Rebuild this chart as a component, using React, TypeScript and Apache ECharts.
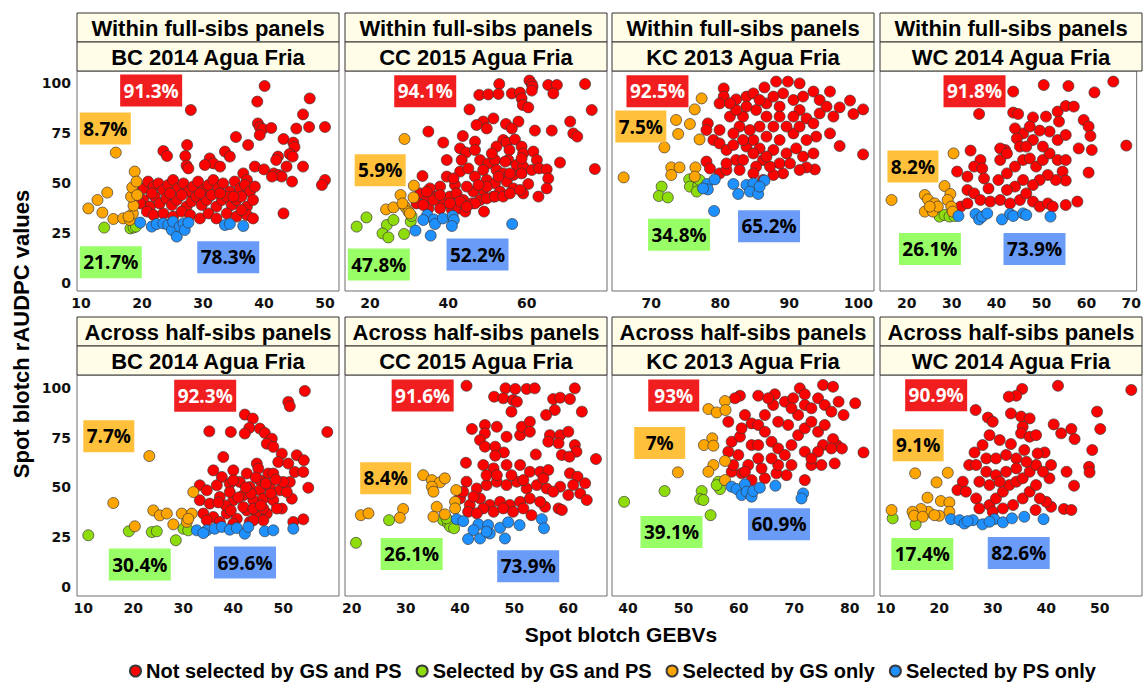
import React, { useEffect, useRef } from "react";
import * as echarts from "echarts";

const GROUPS = ["Not selected by GS and PS", "Selected by GS and PS", "Selected by GS only", "Selected by PS only"];
const GROUP_COLORS = ["#FF0000", "#8EDC0C", "#FFA500", "#1E90FF"];
const BOX_COLORS = ["#F01E1E", "#99FF66", "#FFC03C", "#6A9BF7"];
const BOX_TEXT = ["#FFFFFF", "#000000", "#000000", "#000000"];

const STRIP_TOP = ["Within full-sibs panels", "Across half-sibs panels"];
const STRIP_ENV = ["BC 2014 Agua Fria", "CC 2015 Agua Fria", "KC 2013 Agua Fria", "WC 2014 Agua Fria"];

const Y_TICKS = [0, 25, 50, 75, 100];
const X_TICKS = [
  [10, 20, 30, 40, 50], [20, 40, 60], [70, 80, 90, 100], [20, 30, 40, 50, 60, 70],
  [10, 20, 30, 40, 50], [20, 30, 40, 50, 60], [40, 50, 60, 70, 80], [10, 20, 30, 40, 50],
];
const X_RANGES = [
  [9.34, 52.3], [13.62, 80.5], [64.31, 102.28], [14.02, 71.2],
  [8.74, 61.14], [18.77, 67.14], [37.11, 84.39], [8.93, 57.9],
];
const Y_RANGES = [[-4, 106], [-4.5, 106.5]];

// ---------- Within full-sibs: BC 2014 ----------
const T1_NOT = [[40.1,98.5],[47.5,92.3],[38.9,90.7],[28.0,86.5],[46.4,84.3],[39.0,79.8],[39.3,78],[39.8,77],[41.2,77.5],[45.3,77.2],[47.4,78],[50,78],[39.3,74],[35.4,73],[43.2,72],[37.4,69],[44.8,70.2],[45.0,68],[27.4,69],[23.5,66],[24.1,63.5],[27.1,63.5],[31.1,62.3],[31.7,59.8],[33.6,65.7],[34.4,63.2],[42.3,63.2],[42.0,61.5],[44.2,64.5],[44.7,63.2],[27.3,58.7],[27.6,57.3],[30.3,59],[32.8,58.2],[38.5,58.2],[40.0,56.8],[43.7,58.2],[46.4,58.2],[41.6,54.8],[42.4,54],[42.9,53.2],[41.3,53.2],[36.6,54.8],[37.2,51.5],[50.0,51.5],[49.5,49],[44.6,50.7],[43.2,34.8],
[20.2,47.3],[21.0,50.7],[21.9,48.2],[22.7,49.8],[23.5,46.5],[24.3,49],[25.1,51.5],[25.9,47.3],[26.8,49.8],[27.6,45.7],[28.4,48.2],[29.2,50.7],[30.1,46.5],[30.9,49],[31.7,51.5],[32.5,47.3],[33.3,49.8],[34.4,45.7],[35.2,50.7],[36.1,47.3],[36.9,49],[37.7,45.7],
[20.2,41.5],[21.3,38.2],[22.1,43.2],[22.9,39.8],[24.0,42.3],[24.9,39],[25.7,41.5],[26.5,44],[27.3,38.2],[28.1,40.7],[28.9,43.2],[29.8,39],[30.6,41.5],[31.4,44],[32.2,38.2],[33.1,41.5],[33.9,43.2],[34.7,39],[35.5,41.5],[36.3,43.2],[37.2,38.2],[38.2,41.5],
[20.8,35.7],[21.9,34],[23.5,34.8],[25.1,33.2],[26.5,35.7],[27.9,34],[29.5,32.3],[30.9,34.8],[32.2,32.3],[33.9,34.8],[35.5,33.2],[37.2,34],[38.2,32.3],
[19.7,39.8],[21.6,44.8],[24.6,44.8],[29.5,44.8],[32.8,44.8],[35.0,43.2],[36.3,36.5],[38.5,48.2]];
const T1_BOTH = [[13.8,27.7],[18.1,27.3],[18.6,27.8],[19.0,28.2]];
const T1_GS = [[15.7,65.2],[12.7,41.5],[11.2,37.3],[14.3,45.2],[13.5,35.2],[15.3,32],[16.9,32.3],[18.0,31.5],[18.5,34.8],[18.6,38.7],[18.2,43.2],[18.4,47.8],[18.8,55.7],[19.1,50.7],[19.2,44],[17.8,33.2]];
const T1_PS = [[19.7,30.2],[21.6,28.2],[22.4,29.5],[23.5,29.8],[24.3,29],[24.9,26.5],[25.1,30.7],[25.7,23.2],[26.2,28.2],[26.8,29.8],[27.0,26.5],[27.6,30.2],[33.6,29],[34.4,29.5],[36.6,28.5]];
const T1_PCT = ["91.3%", "21.7%", "8.7%", "78.3%"];
const T1_PCT_POS = [[21.5,96.25],[14.88,10.4],[13.98,77.2],[34.14,12.9]];

// ---------- Within full-sibs: CC 2015 ----------
const T2_NOT = [[53.0,99.5],[60.7,101.2],[61.3,99.5],[61.5,98.2],[65.5,99],[67.7,99],[66.8,94.8],[74.9,99.5],[47.9,94],[50.2,94.3],[52.8,94.5],[56.2,94.8],[58.3,95.2],[61.3,96.2],[58.7,92.3],[59.0,89],[60.4,87.8],[45.4,86.8],[76.6,86.5],[51.5,82.3],[48.9,80.7],[49.8,77.3],[47.2,79],[54.7,79.5],[57.9,80.7],[56.2,77.3],[62.1,76.2],[66.4,76.2],[71.1,80.7],[71.9,74.8],[72.9,73.2],[34.9,75.7],[43.7,73.5],[38.7,70.2],[46.8,70.7],[54.0,71.5],[54.9,70.2],[57.0,71.8],[52.3,68.2],[43.0,67.3],[44.5,65.2],[46.8,66.5],[55.6,66.5],[58.7,68.2],[59.1,64.8],[61.7,65.7],[62.6,61.5],[68.5,60.2],[77.4,57],[39.6,61.5],[43.4,61.5],[48.1,61.5],[50.2,59.8],[51.9,61.5],[55.3,61.5],[57.4,59],[59.1,58.2],[48.9,56.5],[52.3,56.5],[54.0,54.8],[56.6,54],[58.7,54.8],[61.3,56.5],[63.2,57.3],[65.1,56.8],[65.5,52.3],[65.1,47.3],[63.0,43.2],[60.4,49.5],[59.1,44.8],[33.4,53.5],[39.6,53.2],[43.0,55.7],[46.8,53.2],[49.8,51.5],[51.9,49.8],[54.9,50.7],[56.6,47.3],[53.2,45.7],[51.5,43.2],[48.9,46.5],[46.4,45.7],[44.7,48.2],[41.7,49],[37.9,48.2],[35.3,47.3],[32.8,44.8],[31.9,39.8],[34.5,41.5],[37.0,43.2],[38.7,39.8],[40.4,43.2],[42.1,44.8],[43.8,41.5],[46.0,39.8],[48.1,41.5],[49.8,42.3],[51.9,43.2],[54.0,43.2],[55.7,44.8],[58.3,46.5],[40.9,36.5],[42.6,37.3],[44.3,35.7],[37.9,37.3],[34.9,37.3],[33.6,39],[49.1,35.7],[46.8,39.8],[36.2,41.5],[43.0,40.7],[49.8,48.2],[52.8,53.2],[47.7,49],[45.1,57.3],[41.3,52.3],[37.9,44],[34.5,45.7],[55.7,54.8],[54.5,60.7],[51.1,64.8],[58.7,62.3],[44.7,38.2],[40.4,39.8]];
const T2_BOTH = [[16.6,28.2],[19.1,32.8],[24.3,29],[23.2,24.8],[24.7,22.8],[28.7,24.5],[30.4,30.7],[30.6,33.5],[26.0,31.5]];
const T2_GS = [[28.8,72],[31.2,48.7],[27.8,44],[31.1,42.8],[24.1,36.8],[26.0,37.8],[28.9,38.2],[29.8,35.7],[30.2,34.8],[28.3,39.8]];
const T2_PS = [[34.6,34],[36.3,31.8],[36.6,29.5],[38.6,32.3],[41.1,33.5],[41.4,31.5],[40.9,28.5],[31.6,26.2],[35.5,23.7],[56.3,29.5],[33.6,31.5]];
const T2_PCT = ["94.1%", "47.8%", "5.9%", "52.2%"];
const T2_PCT_POS = [[34.1,95.9],[22.25,9.25],[22.6,56.4],[47.45,14.25]];

// ---------- Within full-sibs: KC 2013 ----------
const T3_NOT = [[80.5,97.3],[80.5,93.2],[79.9,89.8],[82.3,91.8],[83.8,93.2],[84.8,94.8],[86.4,97.8],[88.1,100.7],[89.8,100.7],[91.5,99.8],[93.5,95.7],[95.9,95.7],[98.8,91.2],[100.7,86.8],[99.3,84.5],[97.3,87.8],[95.9,74.8],[97.3,68.5],[100.7,64.3],[93.7,56.8],[92.5,57.8],[91.5,56.5],[89.1,54.8],[87.7,54],[86.2,51.5],[78.2,79.8],[78.0,76.5],[79.0,71.5],[79.9,69.8],[80.9,66.5],[81.9,69],[78.0,60.7],[78.5,57.3],[79.9,54.8],[80.9,56.5],[82.3,61.5],[83.3,61.5],[83.8,68.2],[84.8,71.5],[85.7,67.3],[86.2,61.5],[85.2,58.2],[82.8,78.2],[81.4,83.2],[83.3,83.2],[85.2,86.5],[86.7,89.8],[88.6,88.2],[90.6,91.5],[91.5,86.5],[92.5,82.3],[93.5,79.8],[94.4,84.8],[93.9,73.2],[92.5,71.5],[90.6,74.8],[89.6,78.2],[88.6,71.5],[87.7,66.5],[89.6,64.8],[91.0,67.3],[92.0,63.2],[88.6,59.8],[87.2,58.2],[84.8,54.8],[82.8,56.5],[80.9,59.8],[85.7,78.2],[87.7,78.2],[86.7,73.2],[84.3,76.5],[81.9,74.8],[79.9,76.5],[93.5,64.8],[94.4,91.5],[95.4,88.2],[96.4,83.2],[92.0,93.2],[89.1,94.8],[87.7,93.2],[85.7,91.5],[83.8,88.2],[82.3,86.5],[81.4,89.8],[88.6,83.2],[90.6,83.2],[91.5,78.2],[84.8,64.8],[86.7,63.2],[83.3,71.5],[90.1,59.8],[86.7,83.2]];
const T3_BOTH = [[71.5,48.2],[71.1,43.5],[72.4,42.8],[75.5,51.8],[75.6,48.2],[76.8,48.5],[76.6,45.7],[77.0,51.5]];
const T3_GS = [[77.3,92.3],[76.3,86.8],[73.6,81.5],[73.9,74.5],[75.6,79.5],[77.0,71.8],[71.9,67.8],[72.9,57.8],[72.9,54],[74.1,57.8],[76.4,57.8],[76.3,53.2],[66.0,52.8]];
const T3_PS = [[78.1,49.5],[79.2,51.8],[78.2,46.8],[81.9,49.5],[82.6,44.5],[83.8,49],[84.8,49.8],[84.3,45.7],[85.5,44.5],[86.4,51.2],[85.7,48.2],[79.1,36],[77.5,47.3]];
const T3_PCT = ["92.5%", "34.8%", "7.5%", "65.2%"];
const T3_PCT_POS = [[70.9,95.9],[74.03,24.1],[68.49,78.2],[87.07,28.4]];

// ---------- Within full-sibs: WC 2014 ----------
const T4_NOT = [[43.7,95.7],[50.5,99],[56.0,98.5],[61.8,95.3],[66.0,100.7],[36.1,84.5],[43.7,85.2],[44.8,84.5],[48.1,82.8],[51.0,83.2],[53.6,85.7],[55.4,88.5],[57.2,88.2],[59.4,81.5],[60.5,78.2],[60.9,73.5],[61.2,66.5],[60.5,55.2],[68.9,68.7],[58.3,67.3],[53.9,80.7],[51.8,75.7],[49.6,76.2],[48.1,71.5],[45.9,74.8],[44.1,77.3],[44.5,72.3],[41.9,66.5],[40.8,67.3],[34.2,66.2],[31.2,55.7],[36.4,61.5],[35.0,58.2],[36.8,57.3],[33.5,53.2],[37.2,52.3],[38.2,47.3],[33.5,46.5],[35.0,44.8],[36.4,41.5],[38.6,40.7],[40.4,51.5],[42.3,54.8],[44.1,58.2],[45.9,61.5],[47.4,62.3],[48.8,58.2],[50.3,61.5],[51.8,64.8],[53.6,61.5],[55.4,61.5],[54.7,55.7],[55.4,51.2],[53.2,51.5],[51.4,54],[49.6,51.5],[48.1,49],[45.9,51.5],[44.1,48.2],[42.3,46.5],[40.8,41.5],[43.0,39.8],[45.2,41.5],[46.6,44.8],[48.1,40.7],[49.6,38.2],[51.4,39.8],[52.5,38.2],[55.4,39],[58.0,40.7],[32.0,38.2],[33.5,39.8],[40.8,61.5],[42.3,64.8],[45.2,68.2],[50.3,68.2],[53.6,71.5],[55.4,74],[47.4,78.2],[46.6,68.2]];
const T4_BOTH = [[27.3,33.2],[28.4,34],[29.5,33.2],[30.6,33.5]];
const T4_GS = [[30.4,64.8],[16.6,41.5],[24.0,44],[24.7,41.8],[26.2,39.8],[24.0,35.7],[25.8,35.7],[28.4,48.5],[29.7,44.5],[29.1,41.5],[29.9,38.2],[30.2,35.7],[26.9,38.2],[25.1,38.2]];
const T4_PS = [[31.5,33.5],[35.3,34.5],[36.1,31.8],[36.8,33.2],[37.9,34.8],[41.2,31.8],[43.0,34.5],[43.7,33.5],[45.9,34.8],[46.6,34],[52.0,33.2]];
const T4_PCT = ["91.8%", "26.1%", "8.2%", "73.9%"];
const T4_PCT_POS = [[35.08,95.9],[25.14,17],[21.36,58.2],[48.44,17]];

// ---------- Across half-sibs: BC 2014 ----------
const B1_NOT = [[54.3,98.5],[51.0,93],[51.3,90.8],[58.8,77.9],[35.2,78.2],[39.5,77.9],[42.3,86.6],[43.9,84.6],[43.2,79.9],[42.3,77.1],[45.3,79.6],[46.3,77.4],[47.7,74.5],[46.7,72],[48.0,70.4],[49.7,67],[49.0,62.8],[52.7,66.2],[54.1,63.7],[38.0,65.3],[36.0,58.6],[40.0,58.6],[37.7,55.3],[44.7,62],[45.0,59.5],[47.0,57],[45.3,53.6],[48.0,57],[51.0,62],[52.3,57.8],[54.0,57.8],[55.0,49.9],[51.3,52.8],[51.7,44.4],[33.3,51.1],[34.7,48.6],[36.7,51.1],[39.3,51.9],[41.3,52.8],[43.3,50.3],[45.3,48.6],[47.3,50.3],[49.3,48.6],[50.7,47.7],[33.3,43.6],[35.3,41.9],[37.3,45.2],[40.0,43.6],[42.0,46.1],[44.0,43.6],[46.0,44.4],[48.0,43.6],[49.7,39.4],[34.0,36.9],[36.0,35.2],[38.7,36.9],[40.7,34.3],[42.7,38.5],[44.7,36.9],[46.7,36.9],[48.7,39.4],[34.7,33.5],[37.3,32.7],[40.0,31.8],[43.3,32.7],[46.0,33.5],[52.0,32.7],[54.0,34],[39.3,47.7],[42.0,40.2],[44.0,39.4],[50.0,52.8],[40.0,53.6],[42.7,57],[46.0,39.4],[41.0,45],[43.5,47],[45.5,41],[47.5,47],[38.5,41],[44.5,55],[42.5,50],[46.5,52],[39.5,38.5],[37.0,42.5],[48.5,54],[44.0,33.5]];
const B1_BOTH = [[11.0,26],[19.1,28],[23.7,27.6],[24.7,28],[28.5,23.5],[30.0,29.3],[31.0,28.5]];
const B1_GS = [[23.2,65.8],[16.0,42.2],[20.3,30.5],[24.0,38.5],[25.3,36],[26.7,36.9],[28.0,31.5],[29.7,36.9],[30.7,32.7],[31.7,36.9],[32.0,47.7],[31.0,34.3]];
const B1_PS = [[32.7,28.5],[34.7,28.5],[36.3,29.3],[37.7,30.2],[39.3,28.8],[40.7,29.6],[42.3,26.8],[43.0,30.2],[46.3,28],[48.0,28.5],[52.0,29.3],[34.0,27.1]];
const B1_PCT = ["92.3%", "30.4%", "7.7%", "69.6%"];
const B1_PCT_POS = [[34.38,96.1],[21.3,11.3],[15.1,75.7],[42.34,12.3]];

// ---------- Across half-sibs: CC 2015 ----------
const B2_NOT = [[41.2,101.1],[46.3,95.6],[48.4,99.8],[50.2,99.5],[52.3,99.5],[53.8,99.8],[48.0,94.8],[49.8,93.9],[49.5,88.1],[50.5,93.1],[61.2,99.8],[57.2,94.4],[58.5,95.1],[60.3,94.4],[57.5,88.9],[55.9,86.4],[62.5,88.1],[42.2,79.4],[44.6,81.4],[44.6,77.2],[46.8,80.5],[43.7,73.8],[44.6,70.5],[46.5,70.5],[48.6,75.5],[51.1,76.3],[51.4,80.5],[52.9,83],[52.9,78],[56.6,76.3],[58.5,76.3],[60.0,78],[56.3,73],[58.2,72.2],[61.2,71.3],[61.5,68],[58.8,66.3],[60.2,65.5],[65.1,64.3],[54.0,66.6],[48.1,67.6],[46.5,66],[41.1,62.4],[44.3,61.3],[46.2,59.6],[48.6,61.3],[51.1,61.3],[52.9,57.9],[54.8,57.9],[56.3,58.8],[60.3,57.1],[61.7,55.4],[63.1,52.1],[60.9,51.2],[58.5,50.4],[62.2,47],[63.4,43.7],[58.2,39.5],[58.8,38.7],[55.7,40.3],[53.2,36.1],[41.2,52.9],[43.1,49.5],[44.9,51.2],[46.8,52.9],[48.6,51.2],[50.5,52.9],[52.3,49.5],[54.2,51.2],[56.0,49.5],[40.0,44.5],[41.8,41.2],[43.7,44.5],[45.5,41.2],[47.4,42.8],[49.2,41.2],[51.1,42.8],[52.9,44.5],[54.8,42.8],[57.2,47.9],[40.6,47.9],[42.5,45.4],[44.3,39.5],[46.2,37.8],[48.0,39.5],[49.8,37.8],[51.7,39.5],[41.5,37.8],[43.1,37],[44.9,56.2],[46.8,56.2],[49.5,56.2],[51.7,53.7],[55.4,54.6],[60.0,46.2]];
const B2_BOTH = [[20.8,22.2],[26.9,33.6],[36.9,33.6],[37.8,31.9],[38.2,30.3],[38.9,29.5],[37.5,34.5]];
const B2_GS = [[33.2,56.2],[34.8,53.7],[36.3,52.6],[37.2,54.6],[34.8,50.4],[35.1,47.9],[39.3,48.7],[39.1,42.8],[39.1,39.5],[35.7,40.3],[35.1,35.3],[37.2,36.5],[29.5,39.2],[28.9,34.8],[21.7,36.1],[23.1,37]];
const B2_PS = [[39.4,34.1],[40.6,33.1],[43.4,31.5],[45.2,31.1],[45.5,26.9],[43.7,24.4],[41.5,24.1],[42.5,28.6],[47.4,29.8],[48.3,24.4],[48.9,32.5],[51.0,31.1],[55.1,34.1],[55.5,29.5],[44.9,27.8]];
const B2_PCT = ["91.6%", "26.1%", "8.4%", "73.9%"];
const B2_PCT_POS = [[33.11,96.2],[31.08,16.65],[26.28,54.6],[52.59,10.4]];

// ---------- Across half-sibs: KC 2013 ----------
const B3_NOT = [[60.2,96.1],[59.3,94.8],[63.5,96.1],[66.5,96.8],[71.0,99.8],[71.9,96.8],[75.2,101.5],[77.0,100.6],[81.0,92.3],[78.9,86.4],[82.5,67.6],[77.3,62.1],[77.7,71.3],[78.6,69.6],[77.0,74.3],[75.2,71.3],[73.1,61.3],[71.9,53.7],[68.6,56.2],[66.8,57.1],[64.7,54.6],[62.3,53.7],[60.5,57.1],[58.7,57.9],[59.0,61.3],[58.1,68],[58.7,73],[60.2,75.5],[61.1,86.4],[62.3,82.2],[63.5,81.4],[64.7,86.4],[66.2,91.4],[68.3,93.1],[69.8,94.8],[71.9,91.4],[73.1,89.8],[74.3,94.8],[75.5,91.4],[76.7,88.1],[58.1,83],[60.5,79.7],[62.3,71.3],[63.5,71.3],[64.7,78],[65.9,73],[67.1,69.6],[68.3,66.3],[69.5,71.3],[70.7,76.3],[71.9,79.7],[73.1,83],[74.3,78],[75.5,81.4],[76.7,69.6],[74.3,68],[71.9,68],[69.5,61.3],[67.1,61.3],[65.9,64.6],[63.5,64.6],[61.7,61.3],[59.9,66.3],[61.1,57.9],[64.1,59.6],[68.9,81.4],[67.1,83],[70.7,86.4],[73.1,64.6],[74.9,61.3],[69.5,89.8],[65.3,94.8],[78.0,93.1]];
const B3_BOTH = [[39.3,42.8],[46.6,48.2],[53.3,48.2],[53.0,44.2],[53.6,43.7],[54.9,36.1],[56.3,52.9],[56.6,49.2],[56.0,51.2]];
const B3_GS = [[54.5,89.4],[56.0,87.7],[57.5,93.4],[57.6,88.9],[55.2,74.7],[53.7,71.3],[55.4,71],[57.5,63.3],[55.4,61.3],[54.5,57.9],[49.0,57.6],[57.5,53.7]];
const B3_PS = [[58.7,50.4],[59.6,49.2],[61.1,51.6],[60.5,46.2],[61.4,47.9],[62.3,45.4],[62.6,48.2],[63.8,49.9],[66.6,50.9],[71.6,47],[71.3,44.5]];
const B3_PCT = ["93%", "39.1%", "7%", "60.9%"];
const B3_PCT_POS = [[48.25,96.2],[47.85,27.6],[45.72,72.4],[67.25,31.6]];

// ---------- Across half-sibs: WC 2014 ----------
const B4_NOT = [[42.2,101.1],[55.9,99],[35.5,99.5],[34.4,96.1],[33.0,95.6],[26.8,88.9],[29.1,85.1],[30.0,83],[33.4,87.2],[35.3,85.6],[36.9,84.7],[35.6,80.5],[35.3,77.2],[36.9,75.5],[38.1,76.3],[41.4,81.7],[42.8,77.2],[44.7,79.4],[45.3,74.3],[49.5,88.1],[50.1,79.4],[48.6,68.8],[48.0,60.4],[48.1,57.6],[43.8,57.9],[45.2,50.9],[43.3,39.2],[44.7,38.7],[40.9,40.3],[40.0,42.8],[38.0,38.7],[38.8,44.5],[40.6,54.6],[40.9,61.3],[39.7,67.6],[38.4,67.1],[35.9,68.8],[33.4,71.8],[31.3,73.8],[29.4,76.3],[28.1,71.3],[26.6,67.6],[25.6,61.3],[24.4,52.9],[23.4,48.7],[25.0,47.9],[26.9,44.5],[27.5,39.5],[29.4,41.2],[30.6,44.5],[31.9,47.9],[33.1,51.2],[34.4,52.9],[35.6,54.6],[36.9,57.9],[38.1,61.3],[39.4,57.9],[35.6,44.5],[33.8,41.2],[31.9,39.5],[30.0,37.8],[36.9,47.9],[38.1,51.2],[28.8,64.6],[30.6,64.6],[32.5,66.3],[34.4,64.6],[36.3,62.9],[28.8,57.9],[30.6,56.2],[32.5,57.9],[27.5,52.9],[29.4,51.2],[31.3,52.9],[26.9,61.3],[34.4,59.6]];
const B4_BOTH = [[11.3,34.5],[15.6,31.5]];
const B4_GS = [[15.5,57.1],[21.6,57.4],[19.5,52.6],[17.8,44.9],[20.3,43.2],[21.9,42.5],[21.9,37.8],[20.0,35.8],[18.0,37.8],[16.6,39.2],[15.0,37.8],[15.3,35.8],[11.1,38.7],[16.9,35.3],[19.1,36.1]];
const B4_PS = [[22.2,34.1],[23.8,33.6],[24.7,31.9],[26.3,33.6],[28.1,31.5],[30.3,34.1],[31.9,32.5],[33.6,34.5],[35.9,35.3],[39.5,34.1],[29.4,32.8],[25.3,33.1]];
const B4_PCT = ["90.9%", "17.4%", "9.1%", "82.6%"];
const B4_PCT_POS = [[19.43,96.3],[16.84,16.55],[16.06,71.2],[34.86,17.15]];

const PANEL_POINTS = [
  [T1_NOT, T1_BOTH, T1_GS, T1_PS], [T2_NOT, T2_BOTH, T2_GS, T2_PS],
  [T3_NOT, T3_BOTH, T3_GS, T3_PS], [T4_NOT, T4_BOTH, T4_GS, T4_PS],
  [B1_NOT, B1_BOTH, B1_GS, B1_PS], [B2_NOT, B2_BOTH, B2_GS, B2_PS],
  [B3_NOT, B3_BOTH, B3_GS, B3_PS], [B4_NOT, B4_BOTH, B4_GS, B4_PS],
];
const PANEL_PCT = [T1_PCT, T2_PCT, T3_PCT, T4_PCT, B1_PCT, B2_PCT, B3_PCT, B4_PCT];
const PANEL_PCT_POS = [T1_PCT_POS, T2_PCT_POS, T3_PCT_POS, T4_PCT_POS, B1_PCT_POS, B2_PCT_POS, B3_PCT_POS, B4_PCT_POS];

// layout
const COL_LEFT = [77, 345, 612, 880];
const COL_W = 262;
const ROW_TOP = [71, 375];
const ROW_H = [220, 221];
const STRIP_H = 29;
const STRIP_FILL = "#FFFDE8";
const TICK_FONT = { fontFamily: "DejaVu Sans", fontWeight: "bold" as const, fontSize: 14, color: "#111111" };

export default function App() {
  const ref = useRef<HTMLDivElement>(null);
  useEffect(() => {
    if (!ref.current) return;
    const chart = echarts.init(ref.current, null, { renderer: "svg" });
    const grids: any[] = [];
    const xAxes: any[] = [];
    const yAxes: any[] = [];
    const series: any[] = [];
    const graphics: any[] = [];

    for (let i = 0; i < 8; i++) {
      const r = Math.floor(i / 4);
      const c = i % 4;
      grids.push({
        left: COL_LEFT[c], top: ROW_TOP[r], width: COL_W, height: ROW_H[r],
        show: true, borderColor: "#6f6f6f", borderWidth: 1, backgroundColor: "#ffffff",
      });
      xAxes.push({
        gridIndex: i, type: "value", min: X_RANGES[i][0], max: X_RANGES[i][1],
        axisLine: { show: false }, axisTick: { show: false }, splitLine: { show: false },
        axisLabel: { ...TICK_FONT, customValues: X_TICKS[i], margin: 5 },
      });
      yAxes.push({
        gridIndex: i, type: "value", min: Y_RANGES[r][0], max: Y_RANGES[r][1],
        axisLine: { show: false }, axisTick: { show: false }, splitLine: { show: false },
        axisLabel: { ...TICK_FONT, show: c === 0, customValues: Y_TICKS, margin: 6 },
      });
      PANEL_POINTS[i].forEach((pts, g) => {
        series.push({
          type: "scatter", name: GROUPS[g], xAxisIndex: i, yAxisIndex: i,
          data: pts, symbolSize: 11, z: 2 + (g === 0 ? 0 : 1),
          itemStyle: { color: GROUP_COLORS[g], borderColor: "#3a3a3a", borderWidth: 0.7, opacity: 1 },
          emphasis: { disabled: true },
        });
      });
      series.push({
        type: "scatter", xAxisIndex: i, yAxisIndex: i, silent: true, z: 5, symbol: "rect",
        data: PANEL_PCT[i].map((t, g) => ({
          name: t, value: PANEL_PCT_POS[i][g],
          symbolSize: [t.length >= 5 ? 62 : 51, 32],
          itemStyle: { color: BOX_COLORS[g], opacity: 1 },
          label: { color: BOX_TEXT[g] },
        })),
        itemStyle: { opacity: 1 },
        label: {
          show: true, position: "inside", formatter: "{b}",
          fontFamily: "Open Sans", fontWeight: "bold", fontSize: 19,
        },
        emphasis: { disabled: true },
      });

      const sx = COL_LEFT[c];
      const sy = ROW_TOP[r] - 2 * STRIP_H;
      [STRIP_TOP[r], STRIP_ENV[c]].forEach((txt, k) => {
        graphics.push({
          type: "rect", silent: true,
          shape: { x: sx, y: sy + k * STRIP_H, width: COL_W, height: STRIP_H },
          style: { fill: STRIP_FILL, stroke: "#333333", lineWidth: 1 },
        });
        graphics.push({
          type: "text", silent: true, x: sx + COL_W / 2, y: sy + k * STRIP_H + STRIP_H / 2 + 1,
          style: {
            text: txt, textAlign: "center", textVerticalAlign: "middle",
            font: 'bold 22px "Liberation Sans", Arial, sans-serif', fill: "#000000",
          },
        });
      });
    }

    graphics.push({
      type: "text", silent: true, x: 21, y: 334, rotation: Math.PI / 2,
      style: {
        text: "Spot blotch rAUDPC values", textAlign: "center", textVerticalAlign: "middle",
        font: 'bold 22px "Liberation Sans", Arial, sans-serif', fill: "#000000",
      },
    });
    graphics.push({
      type: "text", silent: true, x: 621, y: 634,
      style: {
        text: "Spot blotch GEBVs", textAlign: "center", textVerticalAlign: "middle",
        font: 'bold 21px "Liberation Sans", Arial, sans-serif', fill: "#000000",
      },
    });

    chart.setOption({
      animation: false,
      backgroundColor: "#ffffff",
      grid: grids,
      xAxis: xAxes,
      yAxis: yAxes,
      series,
      graphic: graphics,
      legend: {
        data: GROUPS.map((n) => ({ name: n, icon: "circle" })),
        top: 660, left: 129, itemWidth: 11, itemHeight: 11, itemGap: 14,
        selectedMode: false, padding: 0,
        textStyle: { fontFamily: '"Liberation Sans", Arial, sans-serif', fontWeight: "bold", fontSize: 20, lineHeight: 22, color: "#000000" },
      },
    });
    return () => chart.dispose();
  }, []);
  return <div ref={ref} style={{ position: "absolute", left: 0, top: 0, width: 1144, height: 685 }} />;
}
